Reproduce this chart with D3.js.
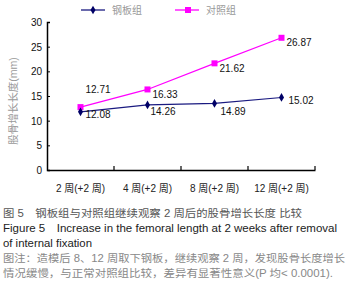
<!DOCTYPE html>
<html>
<head>
  <meta charset="utf-8">
  <script src="https://d3js.org/d3.v7.min.js"></script>
  <style>
    body { margin: 0; background: #fff; }
    text { font-family: Arial, "Liberation Sans", "Noto Sans CJK SC", sans-serif; }
  </style>
</head>
<body>
  <svg id="chart" width="355" height="300"></svg>
  <script>
    // datos (etiquetas tal como aparecen)
    const categories = ["2 周(+2 周)", "4 周(+2 周)", "8 周(+2 周)", "12 周(+2 周)"];
    const steel = [11.8, 13.2, 13.5, 14.7];
    const steelLabels = ["12.08", "14.26", "14.89", "15.02"];
    const control = [12.75, 16.33, 21.62, 26.8];
    const controlLabels = ["12.71", "16.33", "21.62", "26.87"];
    const seriesNames = ["钢板组", "对照组"];
    const yTicks = [0, 5, 10, 15, 20, 25, 30];

    const svg = d3.select("#chart");
    const margin = { left: 47, right: 40, top: 22, bottom: 130 };
    const width = 355, height = 300;

    const x = d3.scaleBand().domain(categories).range([margin.left, width - margin.right]);
    const y = d3.scaleLinear().domain([0, 30]).range([height - margin.bottom, margin.top]);

    // eje x
    const xAxis = svg.append("g")
      .attr("transform", `translate(0,${height - margin.bottom})`)
      .call(d3.axisBottom(x).tickSize(0).tickFormat(""));
    xAxis.select(".domain").attr("stroke", "#000").attr("stroke-width", 1.5);
    // marcas entre categorias
    const bounds = categories.map(c => x(c) + x.bandwidth());
    svg.selectAll(".xtick").data(bounds).enter().append("line")
      .attr("x1", d => d).attr("x2", d => d)
      .attr("y1", y(0)).attr("y2", y(0) - 4)
      .attr("stroke", "#000").attr("stroke-width", 1.2);
    svg.selectAll(".xlab").data(categories).enter().append("text")
      .attr("x", d => x(d) + x.bandwidth() / 2)
      .attr("y", y(0) + 22)
      .attr("text-anchor", "middle")
      .attr("font-size", 10)
      .attr("fill", "#222")
      .text(d => d);

    // eje y
    const yAxis = svg.append("g")
      .attr("transform", `translate(${margin.left},0)`)
      .call(d3.axisRight(y).tickValues(yTicks).tickSize(3).tickFormat(""));
    yAxis.select(".domain").attr("stroke", "#000").attr("stroke-width", 1.5);
    svg.selectAll(".ylab").data(yTicks).enter().append("text")
      .attr("x", margin.left - 5)
      .attr("y", d => y(d) + 4)
      .attr("text-anchor", "end")
      .attr("font-size", 10)
      .attr("fill", "#111")
      .text(d => d);

    svg.append("text")
      .attr("transform", "translate(17,101) rotate(-90)")
      .attr("text-anchor", "middle")
      .attr("font-size", 10.5)
      .attr("fill", "#999")
      .text("股骨增长长度(mm)");

    const cx = d => x(d) + x.bandwidth() / 2;
    const line = d3.line().x((d, i) => cx(categories[i])).y(d => y(d));

    // control
    svg.append("path").datum(control)
      .attr("d", line).attr("fill", "none").attr("stroke", "#ff00ff").attr("stroke-width", 1.2);
    svg.selectAll(".cm").data(control).enter().append("rect")
      .attr("x", (d, i) => cx(categories[i]) - 3)
      .attr("y", d => y(d) - 3)
      .attr("width", 6).attr("height", 6)
      .attr("fill", "#ff00ff");

    // acero
    svg.append("path").datum(steel)
      .attr("d", line).attr("fill", "none").attr("stroke", "#1a1a80").attr("stroke-width", 1.2);
    svg.selectAll(".sm").data(steel).enter().append("path")
      .attr("d", d3.symbol().type(d3.symbolDiamond).size(22))
      .attr("transform", (d, i) => `translate(${cx(categories[i])},${y(d)})`)
      .attr("fill", "#000066");

    // etiquetas de valores
    const ctrlOff = [[5, -14], [5, 9], [5, 9], [5, 8]];
    const steelOff = [[5, 6], [3, 10], [6, 12], [7, 6.5]];
    svg.selectAll(".cl").data(control).enter().append("text")
      .attr("x", (d, i) => cx(categories[i]) + ctrlOff[i][0])
      .attr("y", (d, i) => y(d) + ctrlOff[i][1])
      .attr("font-size", 10).attr("fill", "#111")
      .text((d, i) => controlLabels[i]);
    svg.selectAll(".sl").data(steel).enter().append("text")
      .attr("x", (d, i) => cx(categories[i]) + steelOff[i][0])
      .attr("y", (d, i) => y(d) + steelOff[i][1])
      .attr("font-size", 10).attr("fill", "#111")
      .text((d, i) => steelLabels[i]);

    // leyenda
    const legend = [
      { name: seriesNames[0], color: "#1a1a80", x: 81, sym: "diamond" },
      { name: seriesNames[1], color: "#ff00ff", x: 175, sym: "square" }
    ];
    legend.forEach(l => {
      svg.append("line").attr("x1", l.x).attr("x2", l.x + 24).attr("y1", 10).attr("y2", 10)
        .attr("stroke", l.color).attr("stroke-width", 1.3);
      if (l.sym === "diamond") {
        svg.append("path").attr("d", d3.symbol().type(d3.symbolDiamond).size(22))
          .attr("transform", `translate(${l.x + 12},10)`).attr("fill", "#000066");
      } else {
        svg.append("rect").attr("x", l.x + 10).attr("y", 7).attr("width", 6).attr("height", 6)
          .attr("fill", l.color);
      }
      svg.append("text").attr("x", l.x + 31).attr("y", 14)
        .attr("font-size", 10).attr("fill", "#999").text(l.name);
    });

    // pie de figura
    const caption = [
      { t: "图 5　钢板组与对照组继续观察 2 周后的股骨增长长度 比较", y: 217, size: 10, color: "#555", w: 299 },
      { t: "Figure 5　Increase in the femoral length at 2 weeks after removal", y: 232, size: 11, color: "#222", w: 334 },
      { t: "of internal fixation", y: 247, size: 11, color: "#222", w: 89 },
      { t: "图注：造模后 8、12 周取下钢板，继续观察 2 周，发现股骨长度增长", y: 262, size: 10, color: "#888", w: 342 },
      { t: "情况缓慢，与正常对照组比较，差异有显著性意义(P 均< 0.0001).", y: 277, size: 10, color: "#888", w: 330 }
    ];
    svg.selectAll(".cap").data(caption).enter().append("text")
      .attr("x", 3).attr("y", d => d.y)
      .attr("font-size", d => d.size).attr("fill", d => d.color)
      .attr("textLength", d => d.w).attr("lengthAdjust", "spacingAndGlyphs")
      .text(d => d.t);
  </script>
</body>
</html>
